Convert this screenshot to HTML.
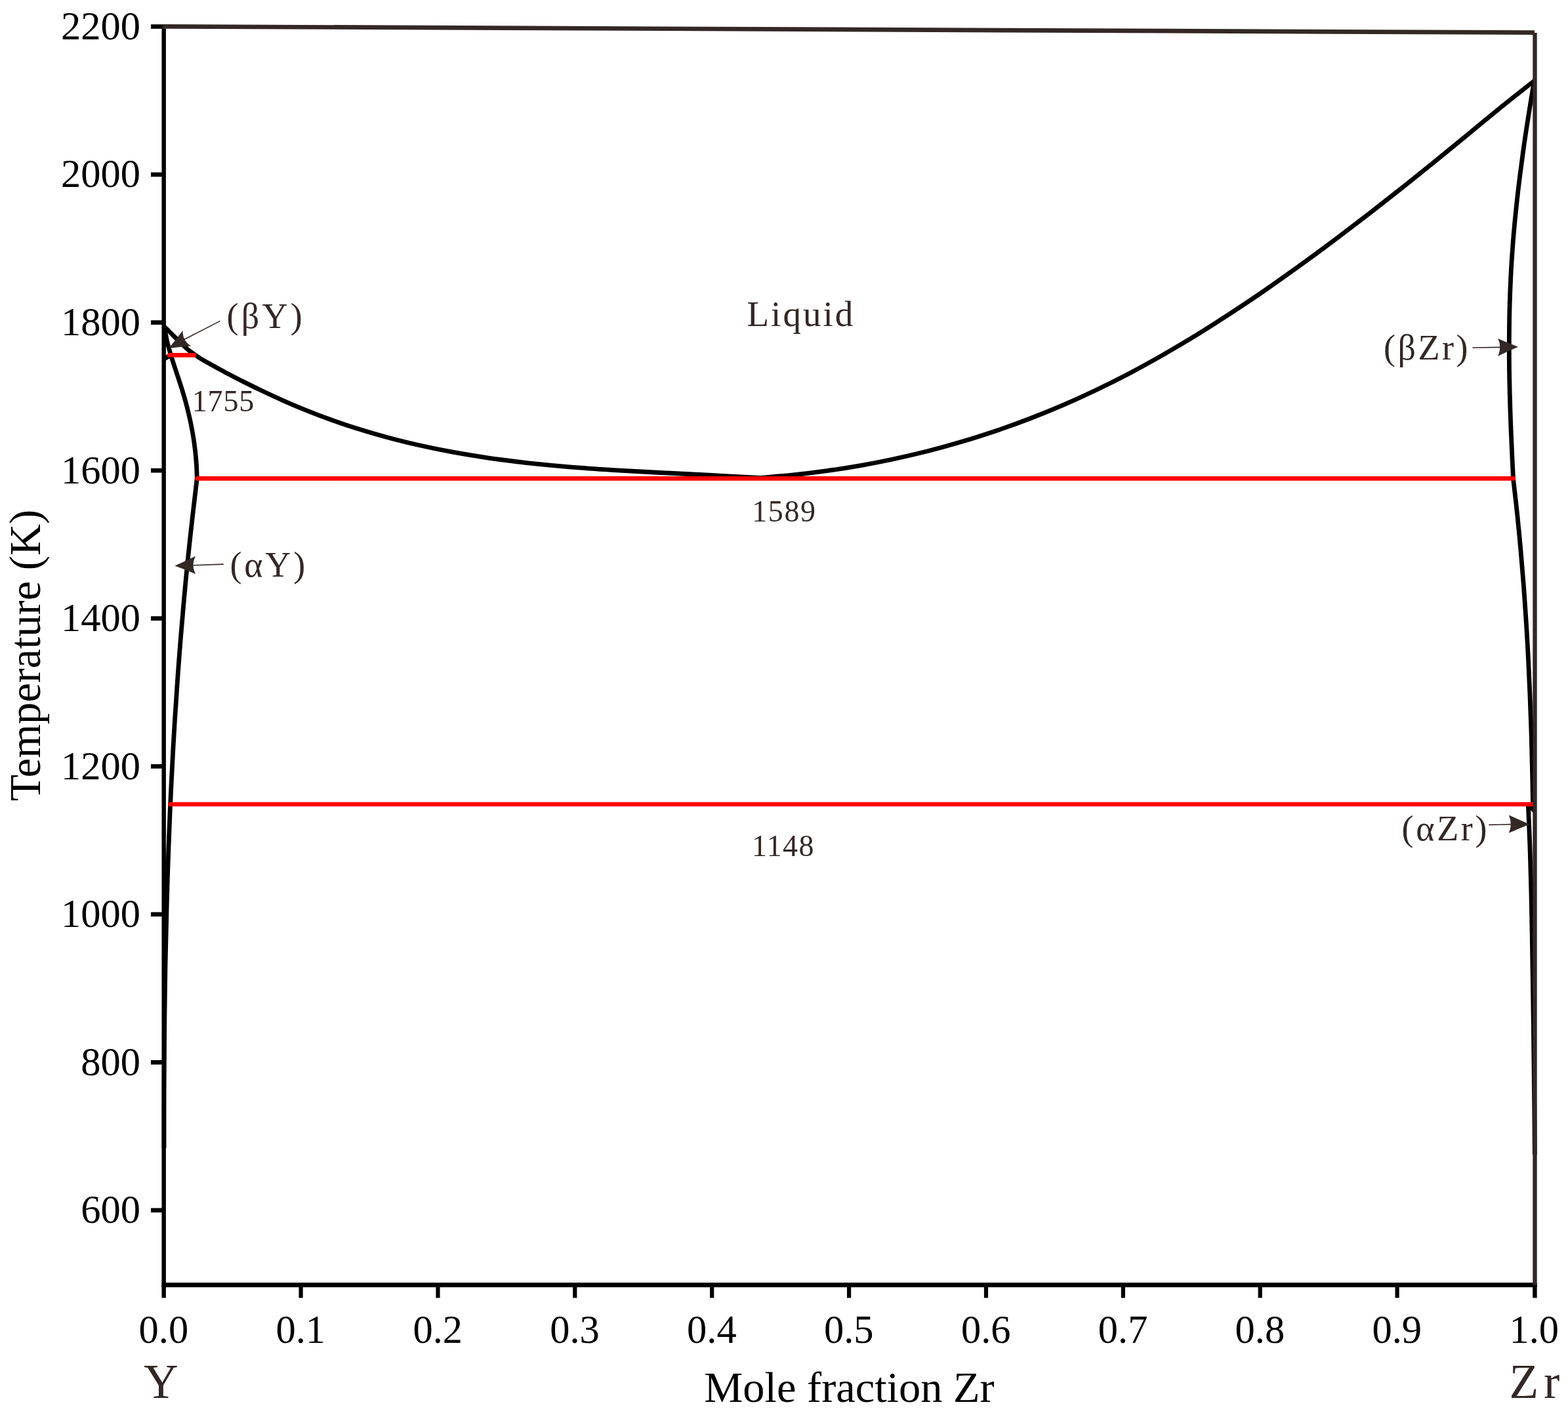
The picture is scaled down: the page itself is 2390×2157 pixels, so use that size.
<!DOCTYPE html>
<html lang="en"><head><meta charset="utf-8"><title>Y-Zr phase diagram</title>
<style>html,body{margin:0;padding:0;background:#fff}body{width:2390px;height:2157px;overflow:hidden}svg{display:block}text{font-family:'Liberation Serif', 'DejaVu Serif', serif}</style>
</head><body>
<svg width="2390" height="2157" viewBox="0 0 2390 2157">
<rect width="2390" height="2157" fill="#fff"/>
<g fill="none" stroke="#000" stroke-width="6.80" stroke-linejoin="round" stroke-linecap="butt">
<path d="M249.0 496.8C249.1 496.9 249.2 496.9 249.8 497.5C250.3 498.0 251.2 498.8 252.5 500.0C253.8 501.2 255.5 502.8 257.6 504.9C259.7 506.9 262.2 509.5 265.1 512.5C268.1 515.4 271.5 519.1 275.4 522.7C279.2 526.4 283.5 530.6 288.4 534.5C293.2 538.3 298.4 542.0 304.2 545.6C310.0 549.3 316.3 552.7 323.1 556.5C329.9 560.3 337.2 564.2 345.0 568.4C352.9 572.5 361.2 576.9 370.1 581.4C379.0 585.9 388.4 590.5 398.3 595.3C408.3 600.0 418.8 604.9 429.8 609.8C440.9 614.7 452.5 619.7 464.6 624.6C476.8 629.5 489.5 634.5 502.8 639.2C516.1 644.0 530.0 648.8 544.4 653.3C558.9 657.9 573.9 662.3 589.5 666.5C605.1 670.7 621.3 674.8 638.1 678.5C654.9 682.3 672.2 685.9 690.2 689.2C708.2 692.5 726.8 695.5 745.9 698.3C765.1 701.0 784.9 703.5 805.3 705.8C825.7 708.0 846.7 710.0 868.3 711.8C890.0 713.6 912.2 715.1 935.1 716.6C958.0 718.0 981.4 719.2 1005.6 720.5C1029.7 721.7 1054.4 722.8 1079.8 724.2C1105.2 725.5 1144.9 727.8 1157.9 728.5"/>
<path d="M1157.9 728.5C1166.5 727.7 1192.1 725.8 1209.3 724.0C1226.4 722.2 1243.5 720.1 1260.6 717.7C1277.7 715.3 1294.8 712.6 1312.0 709.6C1329.1 706.5 1346.2 703.2 1363.3 699.5C1380.4 695.8 1397.5 691.8 1414.7 687.5C1431.8 683.1 1448.9 678.4 1466.0 673.3C1483.1 668.3 1500.2 662.8 1517.4 657.0C1534.5 651.2 1551.6 645.0 1568.7 638.5C1585.8 631.9 1603.0 624.9 1620.1 617.6C1637.2 610.2 1654.3 602.4 1671.4 594.2C1688.5 586.0 1705.7 577.4 1722.8 568.4C1739.9 559.4 1757.0 549.9 1774.1 540.1C1791.2 530.3 1808.4 520.1 1825.5 509.6C1842.6 499.0 1859.7 488.1 1876.8 476.9C1893.9 465.7 1911.1 454.2 1928.2 442.4C1945.3 430.6 1962.4 418.4 1979.5 406.1C1996.7 393.8 2013.8 381.2 2030.9 368.3C2048.0 355.5 2065.1 342.5 2082.2 329.3C2099.4 316.0 2116.5 302.6 2133.6 289.0C2150.7 275.5 2167.8 261.7 2184.9 247.8C2202.1 233.9 2219.2 219.8 2236.3 205.8C2253.4 191.8 2270.5 177.5 2287.6 163.6C2304.8 149.8 2330.4 129.6 2339.0 122.8"/>
<path d="M250.5 497.0C251.1 500.5 252.7 511.1 254.2 518.1C255.8 525.1 257.8 532.2 259.8 539.2C261.9 546.2 264.2 553.2 266.5 560.3C268.8 567.3 271.2 574.3 273.5 581.4C275.8 588.4 278.0 595.4 280.1 602.5C282.2 609.5 284.1 616.5 285.8 623.5C287.6 630.6 289.2 637.6 290.7 644.6C292.1 651.7 293.4 658.7 294.6 665.7C295.7 672.8 296.7 679.8 297.5 686.8C298.3 693.8 298.9 700.9 299.4 707.9C299.9 714.9 300.1 725.5 300.3 729.0"/>
<path d="M300.3 729.0C298.5 744.5 292.9 790.9 289.6 821.8C286.2 852.8 283.2 883.7 280.4 914.6C277.6 945.6 275.0 976.5 272.7 1007.5C270.3 1038.4 268.2 1069.3 266.3 1100.3C264.4 1131.2 262.7 1162.2 261.2 1193.1C259.6 1224.0 258.3 1255.0 257.2 1285.9C256.0 1316.8 255.0 1347.8 254.2 1378.7C253.3 1409.7 252.6 1440.6 252.0 1471.5C251.5 1502.5 251.1 1533.4 250.7 1564.4C250.4 1595.3 250.2 1626.2 250.1 1657.2C250.0 1688.1 250.0 1734.5 250.0 1750.0"/>
<path d="M2338.5 123.0C2337.0 132.2 2332.3 159.8 2329.5 178.1C2326.6 196.5 2323.8 214.9 2321.3 233.3C2318.8 251.7 2316.4 270.0 2314.2 288.4C2312.1 306.8 2310.1 325.2 2308.4 343.5C2306.7 361.9 2305.3 380.3 2304.1 398.7C2302.9 417.1 2302.1 435.4 2301.5 453.8C2300.8 472.2 2300.5 490.6 2300.4 509.0C2300.2 527.3 2300.3 545.7 2300.5 564.1C2300.8 582.5 2301.2 600.8 2301.8 619.2C2302.3 637.6 2303.1 656.0 2303.9 674.4C2304.6 692.7 2306.1 720.3 2306.5 729.5"/>
<path d="M2306.5 729.5C2307.5 738.7 2310.8 766.3 2312.7 784.7C2314.6 803.1 2316.4 821.4 2318.0 839.8C2319.7 858.2 2321.2 876.6 2322.6 895.0C2324.0 913.4 2325.2 931.8 2326.4 950.2C2327.5 968.6 2328.6 986.9 2329.5 1005.3C2330.4 1023.7 2331.3 1042.1 2332.0 1060.5C2332.8 1078.9 2333.4 1097.3 2334.0 1115.7C2334.5 1134.1 2335.0 1152.4 2335.4 1170.8C2335.9 1189.2 2336.3 1216.8 2336.5 1226.0"/>
<path d="M2329.3 1226.0C2329.7 1237.1 2331.2 1270.5 2332.0 1292.8C2332.8 1315.0 2333.4 1337.2 2333.9 1359.5C2334.4 1381.8 2334.8 1404.0 2335.2 1426.2C2335.6 1448.5 2336.0 1470.8 2336.3 1493.0C2336.7 1515.2 2337.0 1537.5 2337.3 1559.8C2337.6 1582.0 2337.9 1604.2 2338.1 1626.5C2338.4 1648.8 2338.6 1671.0 2338.8 1693.2C2339.0 1715.5 2339.2 1748.9 2339.3 1760.0"/>
<path d="M249.7 547.6 L258.5 542.3"/>
<path d="M2327.5 1225.8 L2340.0 1236.9"/>
</g>
<g fill="none" stroke="#ff0000" stroke-width="6.60" stroke-linecap="round">
<path d="M258.3 541.4 L296.0 541.4"/>
<path d="M300.7 729.4 L2307.1 729.4"/>
<path d="M259.7 1226.0 L2337.0 1226.0"/>
</g>
<g fill="none" stroke="#ff0000" stroke-width="6.60" stroke-linecap="butt">
</g>
<g fill="none" stroke="#000" stroke-linecap="butt">
<path d="M249.7 43.5 L249.7 1962.0" stroke-width="6.40"/>
<path d="M246.5 1958.7 L2342.7 1958.7" stroke-width="6.90"/>
<path d="M230.0 40.5 L249.5 40.5" stroke-width="6.70"/>
<path d="M230.0 266.1 L249.5 266.1" stroke-width="6.70"/>
<path d="M230.0 491.6 L249.5 491.6" stroke-width="6.70"/>
<path d="M230.0 717.2 L249.5 717.2" stroke-width="6.70"/>
<path d="M230.0 942.7 L249.5 942.7" stroke-width="6.70"/>
<path d="M230.0 1168.2 L249.5 1168.2" stroke-width="6.70"/>
<path d="M230.0 1393.8 L249.5 1393.8" stroke-width="6.70"/>
<path d="M230.0 1619.4 L249.5 1619.4" stroke-width="6.70"/>
<path d="M230.0 1844.9 L249.5 1844.9" stroke-width="6.70"/>
<path d="M249.7 1958.0 L249.7 1978.5" stroke-width="6.40"/>
<path d="M458.6 1958.0 L458.6 1978.5" stroke-width="6.20"/>
<path d="M667.5 1958.0 L667.5 1978.5" stroke-width="6.20"/>
<path d="M876.3 1958.0 L876.3 1978.5" stroke-width="6.20"/>
<path d="M1085.2 1958.0 L1085.2 1978.5" stroke-width="6.20"/>
<path d="M1294.1 1958.0 L1294.1 1978.5" stroke-width="6.20"/>
<path d="M1503.0 1958.0 L1503.0 1978.5" stroke-width="6.20"/>
<path d="M1711.9 1958.0 L1711.9 1978.5" stroke-width="6.20"/>
<path d="M1920.7 1958.0 L1920.7 1978.5" stroke-width="6.20"/>
<path d="M2129.6 1958.0 L2129.6 1978.5" stroke-width="6.20"/>
<path d="M2339.4 1958.0 L2339.4 1978.5" stroke-width="6.50"/>
</g>
<g fill="none" stroke="#332826" stroke-linecap="butt">
<path d="M248.4 40.3 L2339.0 49.7" stroke-width="6.70"/>
<path d="M2339.5 50.0 L2339.5 1958.8" stroke-width="6.40"/>
</g>
<g font-size="60.5" fill="#000">
<g text-anchor="end">
<text x="214.0" y="59.9">2200</text>
<text x="214.0" y="285.4">2000</text>
<text x="214.0" y="511.0">1800</text>
<text x="214.0" y="736.6">1600</text>
<text x="214.0" y="962.1">1400</text>
<text x="214.0" y="1187.7">1200</text>
<text x="214.0" y="1413.2">1000</text>
<text x="214.0" y="1638.8">800</text>
<text x="214.0" y="1864.3">600</text>
</g><g text-anchor="middle">
<text x="249.4" y="2046.6">0.0</text>
<text x="458.3" y="2046.6">0.1</text>
<text x="667.2" y="2046.6">0.2</text>
<text x="876.0" y="2046.6">0.3</text>
<text x="1084.9" y="2046.6">0.4</text>
<text x="1293.8" y="2046.6">0.5</text>
<text x="1502.7" y="2046.6">0.6</text>
<text x="1711.6" y="2046.6">0.7</text>
<text x="1920.4" y="2046.6">0.8</text>
<text x="2129.3" y="2046.6">0.9</text>
<text x="2338.2" y="2046.6">1.0</text>
</g></g>
<text x="1294.5" y="2136.8" font-size="66.4" fill="#000" text-anchor="middle">Mole fraction Zr</text>
<text x="61.0" y="999.0" font-size="66.6" fill="#000" text-anchor="middle" transform="rotate(-90 61.0 999.0)">Temperature (K)</text>
<text x="245.4" y="2130.8" font-size="73.0" fill="#332826" text-anchor="middle">Y</text>
<text x="2300.5" y="2130.8" font-size="73.0" fill="#332826" letter-spacing="8.00">Zr</text>
<text x="1138.5" y="496.6" font-size="55.0" fill="#332826" letter-spacing="3.00">Liquid</text>
<text x="345.6" y="500.2" font-size="54.0" fill="#332826" letter-spacing="4.20">(βY)</text>
<text x="350.5" y="879.3" font-size="54.0" fill="#332826" letter-spacing="3.80">(αY)</text>
<text x="2109.0" y="548.1" font-size="54.0" fill="#332826" letter-spacing="3.50">(βZr)</text>
<text x="2136.5" y="1281.0" font-size="54.0" fill="#332826" letter-spacing="3.70">(αZr)</text>
<text x="292.8" y="627.0" font-size="46.0" fill="#332826" letter-spacing="0.80">1755</text>
<text x="1146.2" y="795.1" font-size="46.0" fill="#332826" letter-spacing="1.60">1589</text>
<text x="1146.0" y="1304.9" font-size="46.0" fill="#332826" letter-spacing="1.40">1148</text>
<g stroke="#332826" fill="none" stroke-width="1.60" stroke-linecap="round">
<path d="M335.0 489.6 L281.2 517.2"/>
<path d="M340.2 860.1 L294.4 861.8"/>
<path d="M2244.9 530.0 L2286.3 529.4"/>
<path d="M2269.9 1257.4 L2302.8 1256.6"/>
</g>
<g fill="#332826" stroke="none">
<path d="M257.1 530.9 Q268.0 517.9 278.7 503.8 Q277.5 518.7 291.1 527.6 Q273.7 528.8 257.1 530.9 Z"/>
<path d="M266.4 862.5 Q282.0 855.7 297.9 847.8 Q290.8 862.2 298.1 874.9 Q282.1 868.2 266.4 862.5 Z"/>
<path d="M2314.0 528.8 Q2298.8 523.0 2283.3 516.1 Q2289.3 529.3 2283.3 542.9 Q2298.8 535.3 2314.0 528.8 Z"/>
<path d="M2331.6 1256.4 Q2315.9 1250.0 2299.9 1242.5 Q2305.7 1257.0 2299.9 1269.8 Q2315.9 1262.6 2331.6 1256.4 Z"/>
</g>
</svg>
</body></html>
